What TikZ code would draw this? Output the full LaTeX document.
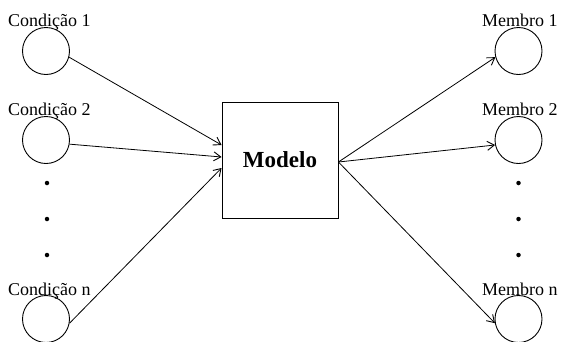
\documentclass[tikz,border=0pt]{standalone}
\usepackage{fontspec}
\setmainfont{Liberation Serif}
\usetikzlibrary{arrows.meta,calc}
\begin{document}
\begin{tikzpicture}[x=1pt,y=-1pt,
  unit/.style={circle,draw,line width=0.9pt,minimum size=47pt,inner sep=0pt},
  lbl/.style={anchor=base west,inner sep=0pt,font=\fontsize{18}{20}\selectfont},
  modelbox/.style={draw,line width=0.9pt,minimum width=116pt,minimum height=116pt,inner sep=0pt,font=\fontsize{23}{26}\selectfont\bfseries},
  conn/.style={line width=0.8pt,-{Straight Barb[length=7pt,width=9pt,line width=0.9pt]}},
  dot/.style={circle,fill,inner sep=0pt,minimum size=4.5pt}]
\useasboundingbox (0,0) rectangle (563,341);
% left inputs
\node[unit] (c1) at (46,51) {};
\node[unit] (c2) at (46,140) {};
\node[unit] (cn) at (46,319) {};
\node[lbl] (t1) at (8,26) {Condição 1};
\node[lbl] (t2) at (8,115) {Condição 2};
\node[lbl] (tn) at (8,295) {Condição n};
\node[dot] (ld1) at (47,183) {};
\node[dot] (ld2) at (47,219) {};
\node[dot] (ld3) at (47,255) {};
% model
\node[modelbox] (m) at (280,160) {Modelo};
% right outputs
\node[unit] (r1) at (518.5,51) {};
\node[unit] (r2) at (518.5,140) {};
\node[unit] (rn) at (518.5,319) {};
\node[lbl] (s1) at (482,26) {Membro 1};
\node[lbl] (s2) at (482,115) {Membro 2};
\node[lbl] (sn) at (482,295) {Membro n};
\node[dot] (rd1) at (518.5,183) {};
\node[dot] (rd2) at (518.5,219) {};
\node[dot] (rd3) at (518.5,255) {};
% targets on box
\coordinate (in1) at ($(m.west)+(0,-15)$);
\coordinate (in2) at ($(m.west)+(0,-3)$);
\coordinate (in3) at ($(m.west)+(0,8)$);
\coordinate (out) at ($(m.east)+(0,2)$);
% connectors
\draw[conn] (c1.-15) -- (in1);
\draw[conn] (c2.-10) -- (in2);
\draw[conn] (cn.-10) -- (in3);
\draw[conn] (out) -- (r1.195);
\draw[conn] (out) -- (r2.192);
\draw[conn] (out) -- (rn.190);
\end{tikzpicture}
\end{document}
